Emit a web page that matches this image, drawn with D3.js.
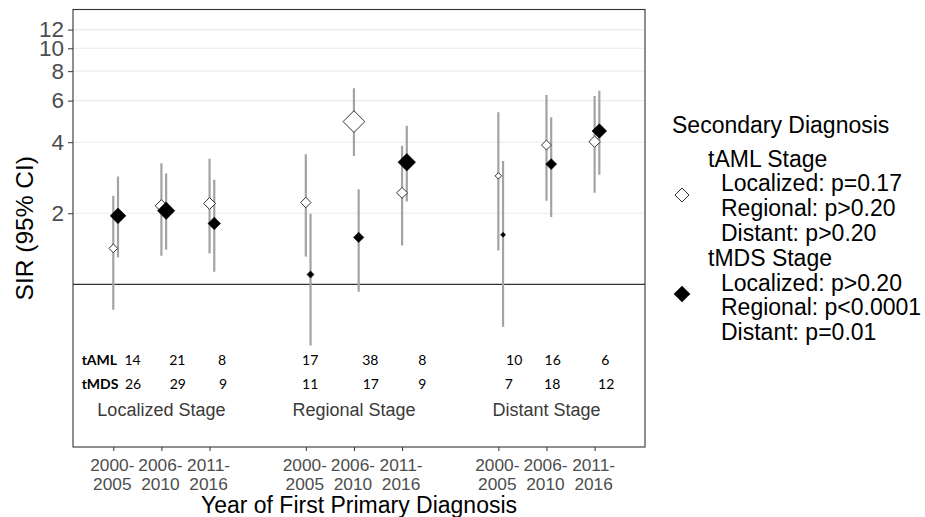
<!DOCTYPE html>
<html><head><meta charset="utf-8">
<script src="https://cdn.jsdelivr.net/npm/d3@7"></script>
<style>body{margin:0;background:#fff} svg{display:block}</style>
</head><body>
<script>
// ---------- data ----------
const stages = ["Localized Stage", "Regional Stage", "Distant Stage"];
const periods = ["2000-2005", "2006-2010", "2011-2016"];
const periodLines = [["2000-", "2005"], ["2006-", "2010"], ["2011-", "2016"]];
// order: Localized (3 periods), Regional (3), Distant (3)
const amlSIR  = [1.42, 2.15, 2.20, 2.22, 4.89, 2.44, 2.88, 3.89, 4.02];
const amlLow  = [0.78, 1.32, 1.35, 1.31, 3.50, 1.46, 1.39, 2.26, 2.44];
const amlHigh = [2.37, 3.26, 3.40, 3.56, 6.77, 3.86, 5.36, 6.34, 6.28];
const mdsSIR  = [1.95, 2.05, 1.81, 1.10, 1.58, 3.29, 1.62, 3.23, 4.46];
const mdsLow  = [1.30, 1.40, 1.13, 0.55, 0.93, 2.24, 0.66, 1.93, 2.91];
const mdsHigh = [2.86, 2.95, 2.77, 1.99, 2.53, 4.70, 3.33, 5.10, 6.61];
const amlCounts = [14, 21, 8, 17, 38, 8, 10, 16, 6];
const mdsCounts = [26, 29, 9, 11, 17, 9, 7, 18, 12];
const yTicks = [2, 4, 6, 8, 10, 12];
const legendTitle = "Secondary Diagnosis";
const legendGroups = [
  {name: "tAML Stage", lines: ["Localized: p=0.17", "Regional: p>0.20", "Distant: p>0.20"]},
  {name: "tMDS Stage", lines: ["Localized: p>0.20", "Regional: p<0.0001", "Distant: p=0.01"]}
];

// ---------- layout ----------
const W = 925, H = 517;
const panel = {left: 73, right: 645, top: 9.5, bottom: 447};
const pos = i => Math.floor(i / 3) * 4 + (i % 3) + 1;  // numeric x position
const dodge = {aml: 0, mds: 0.098};
const amlCountX = [1.40, 2.33, 3.26, 5.09, 6.34, 7.42, 9.33, 10.13, 11.22];
const mdsCountX = [1.41, 2.34, 3.28, 5.09, 6.35, 7.42, 9.22, 10.12, 11.24];
const FONT = "'Liberation Sans', Arial, sans-serif";

const svg = d3.select("body").append("svg").attr("width", W).attr("height", H)
  .style("font-family", FONT);

const x = d3.scaleLinear().domain([0.163, 12.047]).range([panel.left, panel.right]);
const y = d3.scaleLog().domain([0.2044, 14.6]).range([panel.bottom, panel.top]);
const prec = (lo, hi) => 1 / Math.pow(Math.log10(hi / lo), 2);
const size = d3.scaleLinear().domain([2, 12.1]).range([2.5, 10.8]);
const diamond = r => `M0,${-r}L${r},0L0,${r}L${-r},0Z`;

// grid
svg.append("g").selectAll("line").data(yTicks).join("line")
  .attr("x1", panel.left).attr("x2", panel.right)
  .attr("y1", d => y(d)).attr("y2", d => y(d))
  .attr("stroke", "#ebebeb").attr("stroke-width", 1.1);

// reference line at 1
svg.append("line").attr("x1", panel.left).attr("x2", panel.right)
  .attr("y1", y(1)).attr("y2", y(1)).attr("stroke", "#333").attr("stroke-width", 1.3);

// axes
const yAxis = d3.axisLeft(y).tickValues(yTicks).tickFormat(d3.format("d")).tickSize(5).tickPadding(4);
const gy = svg.append("g").attr("transform", `translate(${panel.left},0)`).call(yAxis);
gy.select(".domain").remove();
gy.selectAll(".tick line").attr("stroke", "#333");
gy.selectAll(".tick text").attr("fill", "#4d4d4d").style("font-size", "22.5px")
  .style("font-family", FONT);

const tickPos = d3.range(9).map(pos);
const xAxis = d3.axisBottom(x).tickValues(tickPos).tickFormat("").tickSize(4);
const gx = svg.append("g").attr("transform", `translate(0,${panel.bottom})`).call(xAxis);
gx.select(".domain").remove();
gx.selectAll(".tick line").attr("stroke", "#333");
gx.selectAll(".tick").each(function(d, i) {
  const t = d3.select(this).append("text").attr("fill", "#4d4d4d")
    .attr("text-anchor", "middle").style("font-size", "17.3px")
    .style("font-family", FONT);
  t.append("tspan").attr("x", -1.5).attr("y", 24).text(periodLines[i % 3][0]);
  t.append("tspan").attr("x", -1.5).attr("y", 42.5).text(periodLines[i % 3][1]);
});

// error bars
const rows = [];
for (let i = 0; i < 9; i++) {
  rows.push({k: "aml", p: pos(i) + dodge.aml, v: amlSIR[i], lo: amlLow[i], hi: amlHigh[i]});
  rows.push({k: "mds", p: pos(i) + dodge.mds, v: mdsSIR[i], lo: mdsLow[i], hi: mdsHigh[i]});
}
svg.append("defs").append("clipPath").attr("id", "clip").append("rect")
  .attr("x", panel.left).attr("y", panel.top)
  .attr("width", panel.right - panel.left).attr("height", panel.bottom - panel.top);
const gp = svg.append("g").attr("clip-path", "url(#clip)");
gp.selectAll("line.ci").data(rows).join("line").attr("class", "ci")
  .attr("x1", d => x(d.p)).attr("x2", d => x(d.p))
  .attr("y1", d => y(d.lo)).attr("y2", d => y(d.hi))
  .attr("stroke", "#a3a3a3").attr("stroke-width", 2.2);
gp.selectAll("path.pt").data(rows).join("path").attr("class", "pt")
  .attr("transform", d => `translate(${x(d.p)},${y(d.v)})`)
  .attr("d", d => diamond(size(prec(d.lo, d.hi))))
  .attr("fill", d => d.k === "aml" ? "#fff" : "#000")
  .attr("stroke", d => d.k === "aml" ? "#333" : "#000")
  .attr("stroke-width", d => d.k === "aml" ? 1 : 0.6);

// count annotations
const ann = svg.append("g").style("font-family", "Lato, 'Open Sans', sans-serif").style("font-size", "14px").attr("fill", "#000");
ann.append("text").attr("x", x(0.343)).attr("y", y(0.455)).attr("font-weight", "bold").text("tAML");
ann.append("text").attr("x", x(0.343)).attr("y", y(0.359)).attr("font-weight", "bold").text("tMDS");
ann.selectAll("text.ac").data(amlCounts).join("text").attr("class", "ac")
  .attr("x", (d, i) => x(amlCountX[i])).attr("y", y(0.455)).attr("text-anchor", "middle").text(d => d);
ann.selectAll("text.mc").data(mdsCounts).join("text").attr("class", "mc")
  .attr("x", (d, i) => x(mdsCountX[i])).attr("y", y(0.359)).attr("text-anchor", "middle").text(d => d);
svg.append("g").selectAll("text").data(stages).join("text")
  .attr("x", (d, i) => x(pos(i * 3 + 1))).attr("y", y(0.2767))
  .attr("text-anchor", "middle").attr("fill", "#3a3a3a").style("font-size", "18px").text(d => d);

// panel border
svg.append("rect").attr("x", panel.left).attr("y", panel.top)
  .attr("width", panel.right - panel.left).attr("height", panel.bottom - panel.top)
  .attr("fill", "none").attr("stroke", "#333").attr("stroke-width", 1.1);

// axis titles
svg.append("text").attr("x", (panel.left + panel.right) / 2).attr("y", 512.5)
  .attr("text-anchor", "middle").style("font-size", "23px").text("Year of First Primary Diagnosis");
svg.append("text").attr("transform", `translate(33,${(panel.top + panel.bottom) / 2}) rotate(-90)`)
  .attr("text-anchor", "middle").style("font-size", "24.5px").text("SIR (95% CI)");

// legend
const lg = svg.append("g").style("font-size", "23px");
lg.append("text").attr("x", 672).attr("y", 133).text(legendTitle);
const lineStep = 24.8;
legendGroups.forEach((g, gi) => {
  const y0 = 166.5 + gi * 4 * lineStep;
  lg.append("text").attr("x", 708).attr("y", y0).text(g.name);
  g.lines.forEach((l, li) => {
    lg.append("text").attr("x", 721).attr("y", y0 + (li + 1) * lineStep).text(l);
  });
});
lg.append("path").attr("transform", "translate(682,195)").attr("d", diamond(7))
  .attr("fill", "#fff").attr("stroke", "#333").attr("stroke-width", 1);
lg.append("path").attr("transform", "translate(682,294)").attr("d", diamond(8.3))
  .attr("fill", "#000");
</script>
</body></html>
